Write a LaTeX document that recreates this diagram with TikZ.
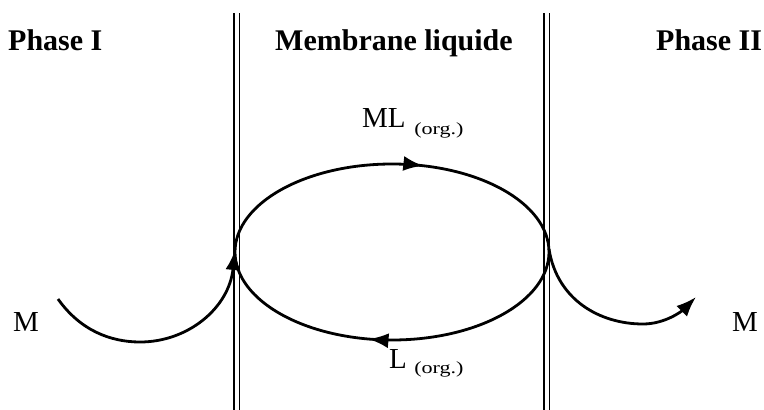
\documentclass[tikz,border=0pt]{standalone}
\usepackage{fontspec}
\setmainfont{Liberation Serif}
\usetikzlibrary{arrows.meta,decorations.markings}
\begin{document}
\begin{tikzpicture}[x=1pt,y=-1pt,
  membrane/.style={line width=1.3pt},
  flow/.style={line width=2.8pt},
  flowtip/.style={-{Latex[length=20pt,width=15pt]}},
  head/.style={anchor=base west,inner sep=0pt,font=\fontsize{30}{30}\selectfont\bfseries},
  lbl/.style={anchor=base west,inner sep=0pt,font=\fontsize{29}{29}\selectfont},
  sub/.style={anchor=base west,inner sep=0pt,font=\fontsize{17}{17}\selectfont,xscale=1.3,transform shape}]
\useasboundingbox (0,0) rectangle (764,410);
% membranes
\coordinate (l1t) at (234,13); \coordinate (l1b) at (234,410);
\coordinate (l2t) at (239.5,13); \coordinate (l2b) at (239.5,410);
\coordinate (r1t) at (544,13); \coordinate (r1b) at (544,410);
\coordinate (r2t) at (549.5,13); \coordinate (r2b) at (549.5,410);
\draw[membrane] (l1t) -- (l1b);
\draw[membrane] (l2t) -- (l2b);
\draw[membrane] (r1t) -- (r1b);
\draw[membrane] (r2t) -- (r2b);
% headers
\node[head] (p1) at (8,50) {Phase I};
\node[head] (mb) at (275,50) {Membrane liquide};
\node[head] (p2) at (656,50) {Phase II};
% ellipse
\coordinate (c) at (392,252);
\draw[flow,postaction={decorate},decoration={markings,
   mark=at position 0.28 with {\arrow{Latex[length=20pt,width=15pt]}},
   mark=at position 0.79 with {\arrow{Latex[length=20pt,width=15pt]}}}]
   (c) ellipse [x radius=157, y radius=88];
% left M flow
\coordinate (ls) at (58,299);
\coordinate (lb) at (140,342);
\coordinate (le) at (235,250);
\draw[flow,flowtip] (ls) .. controls (80,330) and (110,342) .. (lb)
   .. controls (188,342) and (229,308) .. (le);
% right M flow
\coordinate (rs) at (549,249);
\coordinate (rb) at (643,324);
\coordinate (re) at (696,297);
\draw[flow,flowtip] (rs) .. controls (557,300) and (600,324) .. (rb)
   .. controls (665,324) and (682,311) .. (re);
% labels
\node[lbl] (ml) at (362,127) {ML};
\node[sub] (mlo) at (414,134) {(org.)};
\node[lbl] (l) at (389,368) {L};
\node[sub] (lo) at (414,373) {(org.)};
\node[lbl] (m1) at (13,331) {M};
\node[lbl] (m2) at (732,331) {M};
\end{tikzpicture}
\end{document}
